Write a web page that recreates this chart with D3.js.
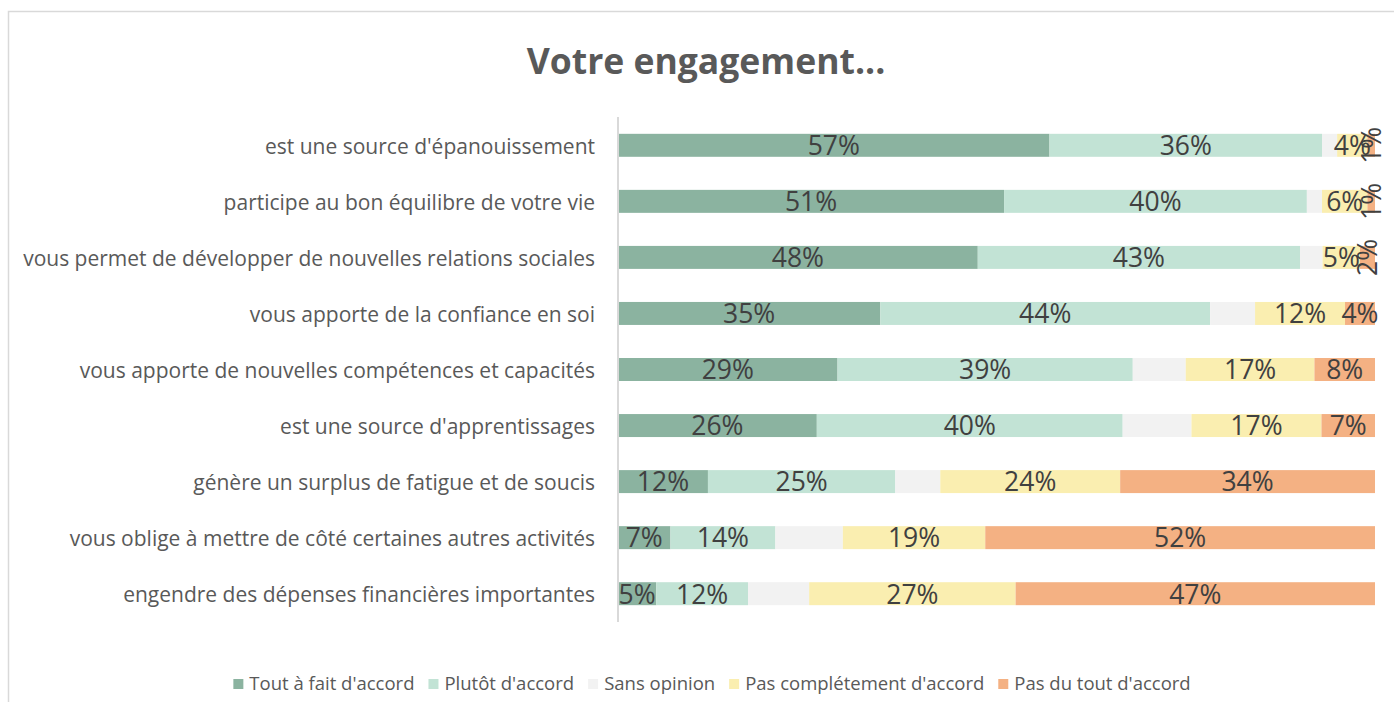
<!DOCTYPE html>
<html>
<head>
<meta charset="utf-8">
<script src="https://cdn.jsdelivr.net/npm/d3@7"></script>
<style>
  body { margin: 0; background: #fff; }
  svg { display: block; font-family: "Open Sans", sans-serif; }
</style>
</head>
<body>
<div class="canvas"></div>
<script>
// categories top to bottom
const categories = [
  "est une source d'épanouissement",
  "participe au bon équilibre de votre vie",
  "vous permet de développer de nouvelles relations sociales",
  "vous apporte de la confiance en soi",
  "vous apporte de nouvelles compétences et capacités",
  "est une source d'apprentissages",
  "génère un surplus de fatigue et de soucis",
  "vous oblige à mettre de côté certaines autres activités",
  "engendre des dépenses financières importantes"
];

const seriesNames = ["Tout à fait d'accord", "Plutôt d'accord", "Sans opinion", "Pas complétement d'accord", "Pas du tout d'accord"];
const seriesColors = ["#8bb3a0", "#c2e3d5", "#f2f2f2", "#faeeb0", "#f4b183"];

// values in %, one array per series (same order as categories)
const toutAFait   = [57, 51, 48, 35, 29, 26, 12, 7, 5];
const plutot      = [36, 40, 43, 44, 39, 40, 25, 14, 12];
const sansOpinion = [2, 2, 3, 6, 7, 9, 6, 9, 8];
const pasCompl    = [4, 6, 5, 12, 17, 17, 24, 19, 27];
const pasDuTout   = [1, 1, 2, 4, 8, 7, 34, 52, 47];

const seriesValues = [toutAFait, plutot, sansOpinion, pasCompl, pasDuTout];

const width = 1394, height = 702;

const svg = d3.select(".canvas")
  .append("svg")
    .attr("width", width)
    .attr("height", height);

// chart border (runs off the right and bottom edges)
svg.append("rect")
  .attr("x", 8.5).attr("y", 11.5)
  .attr("width", width + 20).attr("height", height + 20)
  .attr("fill", "none")
  .attr("stroke", "#d9d9d9")
  .attr("stroke-width", 1.5);

// title
svg.append("text")
  .attr("x", 706).attr("y", 74)
  .attr("text-anchor", "middle")
  .attr("fill", "#595959")
  .attr("font-weight", "bold")
  .style("font-size", "35.5px")
  .text("Votre engagement...");

// build table for stack
const table = categories.map((c, i) => {
  const row = { cat: c };
  seriesNames.forEach((s, j) => row[s] = seriesValues[j][i]);
  return row;
});

const stack = d3.stack()
  .keys(seriesNames)
  .offset(d3.stackOffsetExpand);
const stacked = stack(table);

const x = d3.scaleLinear().domain([0, 1]).range([618, 1375]);
const y = d3.scaleBand()
  .domain(categories)
  .range([117, 622])
  .paddingInner(0.59)
  .paddingOuter(0.3);

// bars
const layers = svg.append("g").selectAll("g")
  .data(stacked)
  .enter()
    .append("g")
    .attr("fill", (d, i) => seriesColors[i]);

layers.selectAll("rect")
  .data(d => d)
  .enter()
    .append("rect")
    .attr("x", d => x(d[0]))
    .attr("y", d => y(d.data.cat))
    .attr("width", d => x(d[1]) - x(d[0]))
    .attr("height", y.bandwidth());

// vertical axis line
svg.append("line")
  .attr("x1", 618).attr("x2", 618)
  .attr("y1", 117).attr("y2", 622)
  .attr("stroke", "#d9d9d9")
  .attr("stroke-width", 2);

// category labels
const yAxis = svg.append("g")
  .attr("transform", "translate(618,0)")
  .call(d3.axisLeft(y).tickSize(0).tickPadding(23));
yAxis.select(".domain").remove();
yAxis.selectAll("text")
  .attr("fill", "#595959")
  .attr("dy", "0.4em")
  .style("font-size", "21px")
  .style("font-family", "'Open Sans', sans-serif");

// data labels (skip "Sans opinion")
const labels = svg.append("g");
stacked.forEach((layer, i) => {
  if (i === 2) return;
  layer.forEach(d => {
    const cx = (x(d[0]) + x(d[1])) / 2;
    const cy = y(d.data.cat) + y.bandwidth() / 2;
    const w = x(d[1]) - x(d[0]);
    const t = labels.append("text")
      .attr("text-anchor", "middle")
      .attr("dy", "0.37em")
      .attr("fill", "#404040")
      .style("font-size", "26.5px")
      .text(d.data[layer.key] + "%");
    if (w < 20) {
      t.attr("transform", `translate(${cx},${cy}) rotate(-90)`);
    } else {
      t.attr("x", cx).attr("y", cy);
    }
  });
});

// legend
const legend = svg.append("g");
let lx = 0;
seriesNames.forEach((s, i) => {
  const g = legend.append("g").attr("transform", `translate(${lx},0)`);
  g.append("rect")
    .attr("x", 0).attr("y", -5)
    .attr("width", 10).attr("height", 10)
    .attr("fill", seriesColors[i]);
  const t = g.append("text")
    .attr("x", 16).attr("y", 0)
    .attr("dy", "0.34em")
    .attr("fill", "#595959")
    .style("font-size", "18.5px")
    .text(s);
  lx += 16 + t.node().getComputedTextLength() + 14;
});
const legendW = lx - 14;
legend.attr("transform", `translate(${712 - legendW / 2},684)`);
</script>
</body>
</html>
